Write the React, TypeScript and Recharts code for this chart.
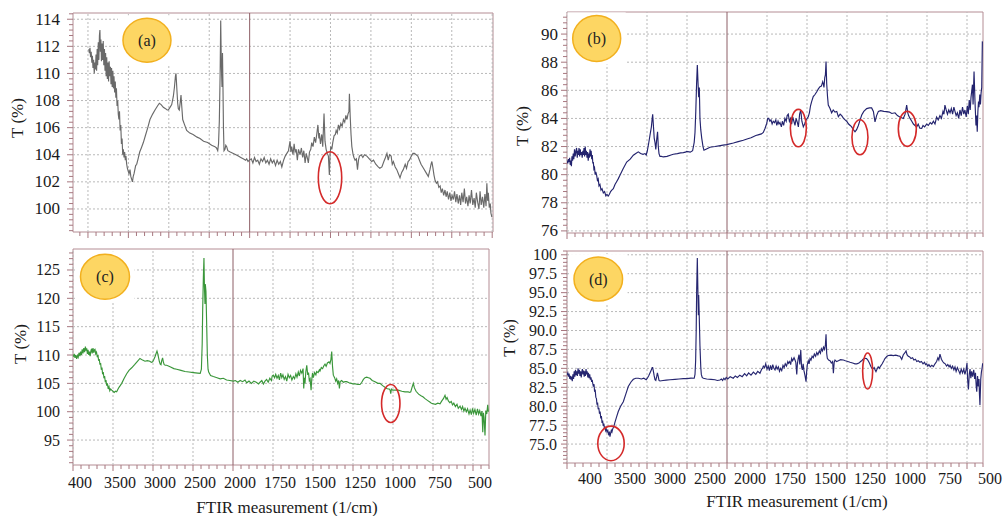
import React from 'react';
import { LineChart, Line, XAxis, YAxis, ReferenceLine, ReferenceDot, ReferenceArea } from 'recharts';

const FONT = 'Liberation Serif, Times New Roman, serif';
const GRID = '#b9b9b9';
const SOLID = '#8d5f66';
const FRAME = '#b48d94';
const TICK = '#a7777f';

// x tick labels (printed under the bottom panels)
const xTickLabels = ['400', '3500', '3000', '2500', '2000', '1750', '1500', '1250', '1000', '750', '500'];

// y major ticks and their labels per panel
const yMajorA = [100, 102, 104, 106, 108, 110, 112, 114];
const yLabelsA = ['100', '102', '104', '106', '108', '110', '112', '114'];
const yMajorB = [76, 78, 80, 82, 84, 86, 88, 90];
const yLabelsB = ['76', '78', '80', '82', '84', '86', '88', '90'];
const yMajorC = [95, 100, 105, 110, 115, 120, 125];
const yLabelsC = ['95', '100', '105', '110', '115', '120', '125'];
const yMajorD = [75, 77.5, 80, 82.5, 85, 87.5, 90, 92.5, 95, 97.5, 100];
const yLabelsD = ['75.0', '77.5', '80.0', '82.5', '85.0', '87.5', '90.0', '92.5', '95.0', '97.5', '100'];

// spectra: [wavenumber (1/cm), T (%)]
const spectrumA: [number, number][] = [
  [3990,111.8],[3982,111.5],[3975,111.9],[3968,111.2],[3960,111.6],[3952,110.8],[3945,111.3],[3938,110.4],[3930,111.0],[3922,110.0],
  [3915,110.8],[3908,110.3],[3900,111.4],[3893,110.2],[3886,111.8],[3880,110.6],[3872,112.3],[3865,111.0],[3858,112.8],[3852,113.2],
  [3846,111.6],[3840,112.5],[3833,110.9],[3826,112.2],[3818,111.0],[3811,112.4],[3804,110.6],[3796,111.8],[3789,110.2],[3782,111.5],
  [3775,109.8],[3768,111.2],[3760,109.6],[3752,110.8],[3745,109.4],[3738,110.9],[3730,109.8],[3722,110.5],[3715,109.2],[3708,110.4],
  [3700,109.0],[3692,110.2],[3685,108.9],[3678,109.8],[3670,108.6],[3662,109.4],[3655,108.2],[3648,108.9],[3640,107.6],[3632,108.0],
  [3625,107.0],[3617,106.6],[3610,107.2],[3602,105.8],[3594,106.2],[3586,104.8],[3578,105.2],[3570,104.0],[3562,104.4],[3554,103.8],
  [3546,104.2],[3538,103.6],[3530,103.9],[3521,103.3],[3512,103.0],[3502,102.8],[3492,102.6],[3480,102.9],[3470,102.4],[3460,102.2],
  [3450,102.0],[3440,102.4],[3430,102.6],[3420,102.9],[3410,103.2],[3397,103.3],[3380,103.7],[3360,104.2],[3340,104.5],[3315,104.9],
  [3290,105.4],[3260,106.0],[3233,106.6],[3200,107.0],[3171,107.3],[3140,107.6],[3117,107.8],[3095,107.7],[3068,107.5],[3040,107.4],
  [3020,107.3],[3006,107.3],[2985,107.5],[2964,107.7],[2944,108.3],[2930,109.0],[2918,109.8],[2911,110.0],[2900,108.8],[2890,107.8],
  [2882,107.4],[2870,107.3],[2858,107.9],[2849,108.4],[2840,107.6],[2828,106.6],[2810,106.3],[2779,105.8],[2740,105.6],[2700,105.5],
  [2650,105.3],[2614,105.2],[2570,105.0],[2520,104.9],[2470,104.7],[2430,104.6],[2410,104.5],[2395,104.3],[2385,104.8],[2375,106.5],
  [2365,110.0],[2358,113.9],[2350,110.5],[2342,109.0],[2336,111.5],[2330,109.0],[2324,106.0],[2317,104.3],[2305,104.4],[2295,104.7],
  [2284,104.6],[2270,104.3],[2240,104.2],[2202,104.1],[2170,104.0],[2140,103.9],[2110,103.8],[2080,103.7],[2050,103.6],[2036,103.7],
  [2020,103.5],[2005,103.6],[1990,103.7],[1980,103.4],[1970,103.8],[1960,103.5],[1950,103.6],[1940,103.3],[1930,103.7],[1920,103.5],
  [1910,103.8],[1900,103.4],[1890,103.6],[1880,103.3],[1870,103.7],[1860,103.4],[1850,103.6],[1840,103.2],[1830,103.6],[1820,103.3],
  [1810,103.5],[1801,103.1],[1790,103.6],[1780,103.9],[1770,104.1],[1760,104.3],[1750,105.0],[1745,104.2],[1740,104.6],[1732,104.0],
  [1725,104.8],[1719,104.2],[1712,104.4],[1705,103.6],[1698,104.4],[1688,104.0],[1680,104.5],[1672,103.8],[1665,104.3],[1657,103.4],
  [1650,104.1],[1642,103.7],[1637,103.4],[1630,104.2],[1622,104.4],[1616,104.9],[1608,104.6],[1600,105.3],[1592,104.9],[1585,105.5],
  [1578,106.2],[1572,105.2],[1569,105.6],[1562,104.8],[1554,105.5],[1548,104.6],[1540,107.05],[1534,105.0],[1527,104.4],[1520,104.1],
  [1513,103.9],[1507,102.5],[1503,104.0],[1498,104.6],[1492,104.4],[1486,104.9],[1478,105.4],[1470,105.5],[1465,105.8],[1458,105.6],
  [1451,106.2],[1444,105.9],[1436,106.3],[1428,106.1],[1420,106.6],[1412,106.4],[1405,106.9],[1398,106.6],[1392,107.0],[1386,107.2],
  [1383,108.5],[1378,106.8],[1373,105.5],[1368,104.6],[1360,104.0],[1355,103.8],[1348,103.6],[1340,103.7],[1333,102.9],[1327,103.6],
  [1321,103.9],[1310,104.0],[1300,103.8],[1290,104.0],[1275,103.9],[1260,103.7],[1245,103.5],[1234,103.6],[1220,103.3],[1205,103.1],
  [1195,103.0],[1182,103.1],[1170,103.5],[1160,103.8],[1151,104.1],[1143,103.6],[1135,104.0],[1125,103.9],[1118,103.3],[1111,103.5],
  [1100,103.1],[1090,102.9],[1080,102.6],[1070,102.3],[1060,102.7],[1050,102.9],[1038,103.3],[1030,103.0],[1020,103.5],[1012,103.6],
  [1000,103.9],[990,104.1],[981,104.1],[970,104.0],[960,103.9],[950,103.6],[940,103.3],[925,103.0],[910,102.7],[900,102.5],
  [895,102.4],[885,102.9],[878,103.3],[873,103.5],[866,103.0],[860,102.5],[853,102.1],[845,101.9],[838,102.0],[830,101.6],
  [822,101.7],[815,101.2],[808,101.5],[800,101.0],[792,101.4],[785,100.9],[778,101.3],[770,100.7],[762,101.2],[755,100.6],
  [748,101.0],[740,100.7],[733,101.3],[725,100.5],[718,101.1],[710,100.4],[702,101.0],[695,100.3],[688,101.2],[680,100.5],
  [672,101.5],[665,100.4],[658,100.9],[650,100.2],[643,101.0],[636,100.4],[628,101.4],[620,100.3],[612,100.8],[605,100.1],
  [598,101.2],[590,100.5],[582,100.0],[575,101.3],[568,100.3],[560,100.9],[552,100.1],[545,101.1],[538,100.2],[533,101.9],
  [528,100.6],[524,101.2],[518,100.1],[512,100.4],[508,99.7],[502,99.4],
];

const spectrumB: [number, number][] = [
  [4000,81.0],[3990,80.8],[3982,81.1],[3975,80.9],[3967,81.2],[3960,80.7],[3952,81.0],[3945,80.6],[3938,81.3],[3930,81.0],
  [3922,81.5],[3915,81.1],[3906,81.8],[3898,81.3],[3890,81.6],[3880,81.9],[3872,81.2],[3865,81.7],[3858,81.4],[3850,81.9],
  [3842,81.3],[3834,81.8],[3826,81.4],[3818,81.6],[3810,81.2],[3802,81.7],[3795,81.4],[3788,81.9],[3780,81.3],[3772,82.0],
  [3765,81.4],[3758,81.7],[3750,81.2],[3742,81.6],[3735,81.0],[3727,81.5],[3720,81.2],[3712,81.8],[3705,81.3],[3698,81.7],
  [3691,81.1],[3684,81.4],[3677,80.8],[3671,80.9],[3664,80.4],[3656,80.5],[3648,80.0],[3640,80.2],[3629,79.95],[3620,79.6],
  [3610,79.7],[3600,79.2],[3588,79.3],[3575,78.9],[3562,79.0],[3546,78.7],[3530,78.8],[3515,78.5],[3500,78.6],[3484,78.48],
  [3470,78.6],[3455,78.8],[3440,78.9],[3421,79.0],[3400,79.3],[3380,79.5],[3360,79.7],[3338,79.95],[3300,80.4],[3254,80.9],
  [3210,81.1],[3171,81.38],[3140,81.5],[3109,81.62],[3080,81.5],[3050,81.45],[3025,81.5],[3010,81.4],[2996,81.7],[2980,82.2],
  [2963,82.8],[2945,83.4],[2935,84.0],[2929,84.3],[2920,83.5],[2910,82.6],[2900,82.3],[2890,81.8],[2879,82.5],[2868,83.05],
  [2859,82.0],[2850,81.5],[2838,81.3],[2820,81.3],[2796,81.26],[2750,81.3],[2700,81.4],[2671,81.45],[2620,81.5],[2580,81.55],
  [2546,81.57],[2520,81.6],[2504,81.65],[2460,81.6],[2430,81.7],[2410,82.3],[2400,83.0],[2390,84.5],[2380,86.5],[2371,87.8],
  [2362,86.5],[2354,85.5],[2346,86.2],[2338,84.0],[2328,83.2],[2316,82.6],[2300,82.0],[2288,81.74],[2250,81.85],[2213,81.95],
  [2150,82.0],[2100,82.05],[2050,82.1],[2004,82.14],[1960,82.25],[1930,82.35],[1898,82.45],[1870,82.55],[1850,82.62],[1836,82.7],
  [1820,82.78],[1800,82.85],[1785,82.9],[1773,83.0],[1762,83.3],[1752,83.64],[1745,84.0],[1739,84.0],[1732,83.8],[1725,83.9],
  [1718,83.6],[1711,83.8],[1703,83.7],[1695,83.9],[1689,83.5],[1681,83.8],[1675,83.6],[1669,83.7],[1660,83.4],[1654,83.8],
  [1646,83.5],[1638,84.0],[1630,83.8],[1624,84.2],[1617,84.3],[1610,83.8],[1603,84.0],[1596,83.6],[1589,84.1],[1582,83.8],
  [1575,83.5],[1568,84.0],[1560,83.7],[1554,83.4],[1546,84.3],[1539,84.6],[1532,83.8],[1523,83.4],[1515,83.6],[1506,83.9],
  [1499,84.0],[1492,84.12],[1485,84.4],[1478,84.9],[1471,85.2],[1461,85.55],[1450,85.7],[1439,85.9],[1429,86.1],[1419,86.26],
  [1410,86.3],[1402,86.6],[1397,86.4],[1394,86.2],[1389,86.9],[1385,87.1],[1381,88.05],[1377,86.5],[1372,85.6],[1367,84.95],
  [1356,84.7],[1346,84.4],[1336,84.6],[1325,84.45],[1314,84.5],[1304,84.12],[1293,84.3],[1283,84.2],[1272,84.0],[1262,83.9],
  [1252,83.8],[1240,83.6],[1230,83.5],[1221,83.4],[1210,83.2],[1200,83.05],[1190,83.2],[1179,83.5],[1168,83.9],[1158,84.24],
  [1145,84.5],[1127,84.7],[1110,84.75],[1096,84.75],[1085,84.5],[1075,83.76],[1065,84.2],[1054,84.5],[1040,84.55],[1020,84.5],
  [1002,84.48],[985,84.45],[970,84.35],[950,84.4],[935,84.2],[920,84.1],[898,84.0],[887,84.3],[877,84.95],[870,84.4],
  [865,84.2],[856,84.0],[845,83.8],[835,83.6],[825,83.5],[814,83.4],[805,83.6],[795,83.3],[783,83.29],[775,83.5],
  [765,83.4],[752,83.6],[742,83.5],[730,83.7],[720,83.6],[710,83.8],[700,83.6],[690,84.1],[680,83.9],[669,84.2],
  [660,84.0],[650,84.5],[644,84.3],[638,84.95],[630,84.6],[622,84.3],[614,84.6],[606,84.4],[598,84.7],[590,84.3],
  [582,84.8],[575,84.5],[568,84.2],[560,84.4],[552,84.0],[544,84.6],[536,84.2],[528,84.8],[520,84.3],[513,84.6],
  [505,84.1],[498,84.9],[492,84.3],[486,85.3],[480,84.6],[475,85.5],[471,85.9],[466,86.4],[462,85.0],[456,87.33],
  [450,85.2],[444,83.5],[440,84.2],[436,83.05],[432,84.5],[428,85.2],[425,84.8],[420,85.7],[416,85.0],[412,85.8],
  [408,86.2],[404,89.48],
];

const spectrumC: [number, number][] = [
  [3996,109.7],[3985,110.2],[3975,109.5],[3965,110.0],[3954,109.3],[3945,109.9],[3935,109.6],[3925,110.4],[3913,109.8],[3905,110.6],
  [3895,110.0],[3885,111.0],[3875,110.3],[3865,111.2],[3855,110.5],[3845,111.5],[3838,110.8],[3829,111.2],[3820,110.2],[3812,110.9],
  [3803,110.0],[3795,110.6],[3786,109.8],[3777,110.7],[3768,111.1],[3760,110.3],[3750,111.2],[3741,110.4],[3732,110.9],[3725,111.0],
  [3716,110.2],[3706,110.5],[3696,109.6],[3688,110.0],[3680,109.0],[3672,109.3],[3663,108.3],[3655,108.6],[3646,107.4],[3638,107.8],
  [3630,106.6],[3622,107.0],[3613,105.9],[3605,106.3],[3596,105.2],[3588,105.6],[3579,104.6],[3570,105.0],[3560,104.0],[3550,104.4],
  [3540,103.7],[3530,104.0],[3516,103.8],[3500,103.6],[3485,103.4],[3470,103.6],[3454,103.5],[3440,103.9],[3425,104.3],[3410,104.6],
  [3391,105.0],[3360,105.9],[3329,106.7],[3300,107.3],[3266,107.75],[3230,108.3],[3200,108.8],[3163,109.4],[3130,109.1],[3100,108.9],
  [3071,109.0],[3040,108.9],[3020,108.7],[3004,108.8],[2990,109.2],[2975,109.7],[2960,110.3],[2950,110.7],[2940,110.2],[2930,109.5],
  [2921,108.9],[2910,108.4],[2900,108.3],[2891,109.0],[2880,109.5],[2871,108.8],[2860,108.3],[2846,108.2],[2829,108.2],[2780,107.9],
  [2740,107.6],[2704,107.5],[2650,107.3],[2600,107.1],[2550,107.0],[2496,106.9],[2440,106.8],[2410,106.75],[2395,107.5],[2385,112.0],
  [2379,118.0],[2370,124.0],[2363,127.1],[2357,122.0],[2350,119.0],[2346,122.5],[2338,121.2],[2330,116.0],[2321,110.0],[2312,107.5],
  [2304,107.0],[2280,106.4],[2246,106.2],[2200,106.0],[2160,105.8],[2121,105.9],[2080,105.6],[2040,105.5],[1998,105.4],[1985,105.5],
  [1970,105.2],[1955,105.5],[1940,105.3],[1925,105.6],[1914,105.1],[1900,105.4],[1885,105.0],[1870,105.4],[1855,105.2],[1840,104.9],
  [1831,105.2],[1820,105.5],[1810,104.9],[1800,105.4],[1790,105.7],[1780,105.2],[1770,105.9],[1760,105.5],[1755,106.3],[1748,106.45],
  [1740,106.0],[1733,106.6],[1725,105.9],[1717,106.4],[1710,105.6],[1702,106.8],[1695,106.0],[1688,106.5],[1680,105.7],[1672,106.2],
  [1664,105.4],[1656,106.6],[1648,106.0],[1640,106.4],[1632,105.6],[1623,106.2],[1615,105.8],[1607,106.7],[1600,106.1],[1592,107.0],
  [1585,106.3],[1578,107.3],[1570,106.8],[1562,107.6],[1558,104.1],[1554,106.0],[1550,105.0],[1545,107.0],[1539,108.2],[1533,106.5],
  [1528,106.9],[1523,105.5],[1518,105.8],[1512,103.8],[1508,105.6],[1503,106.8],[1498,106.0],[1490,106.9],[1482,106.5],[1477,107.1],
  [1468,106.9],[1460,107.4],[1456,107.2],[1448,107.8],[1440,107.6],[1432,108.1],[1425,108.4],[1418,108.0],[1410,108.6],[1400,108.8],
  [1394,108.5],[1388,109.2],[1383,110.6],[1378,108.0],[1373,106.45],[1365,106.0],[1358,105.4],[1352,105.8],[1346,105.0],[1340,105.5],
  [1335,104.1],[1330,105.3],[1321,105.5],[1310,105.2],[1300,105.3],[1289,105.3],[1275,105.1],[1260,105.0],[1248,104.9],[1235,104.9],
  [1220,104.8],[1206,104.8],[1195,105.2],[1185,105.7],[1175,106.0],[1164,106.1],[1154,106.0],[1144,105.9],[1130,105.5],[1112,105.3],
  [1095,105.0],[1081,105.0],[1065,104.6],[1050,104.3],[1039,104.1],[1030,104.0],[1023,104.0],[1018,103.8],[1014,103.2],[1010,104.0],
  [1002,103.8],[985,103.8],[967,103.8],[945,103.6],[925,103.5],[905,103.5],[895,103.4],[889,103.5],[881,104.3],[873,105.0],
  [866,104.2],[856,103.6],[840,103.1],[825,102.8],[811,102.6],[800,102.3],[785,102.0],[770,101.7],[760,101.5],[748,101.4],
  [735,101.3],[720,101.5],[706,101.4],[695,101.9],[685,102.3],[675,102.9],[668,102.2],[662,102.5],[654,101.9],[645,101.6],
  [636,101.8],[628,101.2],[620,101.5],[610,100.9],[600,101.3],[592,100.6],[581,101.0],[572,100.4],[565,100.9],[557,100.1],
  [550,100.6],[541,100.0],[534,100.5],[525,99.6],[518,100.3],[510,99.5],[503,100.6],[496,99.7],[488,100.4],[480,99.4],
  [472,100.5],[465,99.6],[458,100.2],[450,99.2],[444,100.1],[439,96.4],[435,99.8],[431,99.0],[425,95.8],[420,100.2],
  [414,99.6],[408,101.2],[404,100.0],
];

const spectrumD: [number, number][] = [
  [4000,84.1],[3990,84.4],[3982,83.9],[3974,84.3],[3965,83.6],[3958,84.0],[3950,83.5],[3942,83.9],[3934,83.3],[3926,84.2],
  [3918,83.6],[3910,84.6],[3902,83.9],[3894,84.8],[3886,84.1],[3878,84.6],[3870,84.0],[3862,85.0],[3855,84.3],[3846,84.8],
  [3838,84.0],[3830,84.6],[3822,83.8],[3815,84.5],[3808,84.9],[3800,84.2],[3792,84.7],[3785,83.9],[3777,84.6],[3770,84.0],
  [3762,84.9],[3755,84.2],[3748,84.6],[3740,83.8],[3732,84.4],[3724,83.7],[3716,84.2],[3708,83.5],[3700,83.8],[3692,83.2],
  [3685,83.5],[3678,83.0],[3670,82.6],[3662,82.9],[3655,81.9],[3648,82.2],[3640,81.2],[3632,81.0],[3625,80.2],[3618,80.5],
  [3610,79.6],[3602,79.8],[3594,79.0],[3586,79.3],[3578,78.4],[3570,78.7],[3562,77.8],[3555,78.1],[3547,77.4],[3540,77.7],
  [3532,77.0],[3525,77.3],[3517,76.8],[3510,77.0],[3500,76.6],[3490,76.8],[3480,76.3],[3470,76.5],[3463,75.97],[3455,76.4],
  [3446,76.8],[3438,76.6],[3429,77.0],[3415,77.3],[3400,77.9],[3380,78.6],[3359,79.3],[3330,80.0],[3296,80.6],[3265,81.6],
  [3234,82.6],[3200,83.2],[3171,83.56],[3140,83.7],[3109,83.7],[3070,83.6],[3040,83.7],[3025,83.6],[3010,83.5],[2996,83.7],
  [2980,84.0],[2963,84.4],[2945,84.8],[2935,85.1],[2929,85.1],[2920,84.6],[2910,84.0],[2900,83.5],[2890,83.4],[2879,83.9],
  [2870,84.4],[2859,83.9],[2850,83.4],[2838,83.33],[2800,83.4],[2760,83.45],[2713,83.5],[2650,83.55],[2600,83.6],[2546,83.65],
  [2500,83.65],[2450,83.7],[2410,83.69],[2400,84.2],[2392,86.0],[2385,90.0],[2379,95.5],[2371,99.56],[2365,96.0],[2358,92.0],
  [2354,94.7],[2346,91.5],[2338,88.0],[2328,85.2],[2321,84.2],[2310,83.8],[2296,83.69],[2254,83.6],[2200,83.55],[2150,83.5],
  [2120,83.4],[2088,83.47],[2070,83.6],[2055,83.4],[2040,83.7],[2025,83.5],[2010,83.8],[1995,83.6],[1980,83.9],[1961,83.7],
  [1948,84.0],[1935,83.8],[1920,84.1],[1905,83.9],[1890,84.3],[1877,84.0],[1865,84.4],[1850,84.1],[1835,84.5],[1820,84.2],
  [1808,84.6],[1794,84.35],[1783,84.9],[1778,85.0],[1773,85.3],[1765,85.1],[1758,85.6],[1750,84.9],[1742,85.3],[1735,84.7],
  [1728,85.4],[1721,84.8],[1714,85.5],[1707,85.0],[1700,84.8],[1693,85.3],[1686,84.9],[1679,85.2],[1672,84.6],[1665,85.0],
  [1658,84.7],[1650,85.4],[1643,85.1],[1636,85.6],[1628,85.3],[1620,85.9],[1615,85.67],[1608,85.9],[1602,85.5],[1596,86.3],
  [1590,86.0],[1581,86.4],[1575,86.1],[1570,85.8],[1564,84.2],[1560,85.6],[1556,86.2],[1550,86.8],[1545,85.5],[1539,87.43],
  [1534,85.2],[1529,84.8],[1524,85.6],[1519,84.7],[1513,84.1],[1506,83.24],[1502,84.6],[1498,85.5],[1492,86.0],[1487,85.6],
  [1481,86.3],[1475,86.1],[1468,86.6],[1461,86.4],[1454,86.9],[1446,86.6],[1439,87.1],[1432,86.8],[1423,87.3],[1416,87.0],
  [1410,87.6],[1403,87.3],[1397,87.8],[1390,87.5],[1385,88.1],[1381,89.5],[1377,87.0],[1373,86.33],[1365,86.1],[1356,86.0],
  [1348,85.7],[1340,85.9],[1335,84.35],[1330,85.8],[1325,86.1],[1315,85.9],[1304,86.0],[1290,86.15],[1273,86.1],[1260,86.0],
  [1245,85.9],[1231,85.8],[1215,85.7],[1200,85.6],[1189,85.6],[1175,85.7],[1165,85.9],[1158,86.0],[1150,86.2],[1138,86.33],
  [1128,86.3],[1120,86.1],[1110,85.7],[1100,85.2],[1090,84.9],[1080,85.1],[1075,84.8],[1069,84.57],[1062,84.9],[1055,85.2],
  [1048,85.0],[1040,85.3],[1030,85.6],[1020,86.0],[1013,86.3],[1000,86.6],[992,86.7],[975,86.75],[961,86.68],[945,86.75],
  [930,86.65],[919,86.6],[908,86.2],[898,86.8],[890,87.0],[881,87.3],[875,86.8],[867,86.6],[858,86.5],[850,86.3],
  [840,86.4],[832,86.1],[822,86.2],[814,85.9],[805,86.0],[794,85.8],[785,85.9],[775,85.6],[766,85.8],[759,85.5],
  [752,85.6],[745,85.3],[738,85.5],[730,85.2],[720,85.4],[710,85.23],[700,85.6],[690,85.9],[682,86.4],[676,86.1],
  [669,86.87],[660,86.2],[652,85.9],[644,85.7],[636,85.6],[628,85.3],[620,85.5],[612,85.2],[606,85.4],[598,85.0],
  [590,85.3],[582,84.8],[575,85.2],[568,84.6],[560,85.1],[552,84.7],[544,84.3],[536,84.9],[528,84.4],[520,84.9],
  [513,84.2],[506,84.8],[500,85.7],[496,83.5],[491,82.2],[486,84.2],[481,84.9],[476,83.7],[471,84.6],[465,83.9],
  [458,84.8],[452,83.6],[447,84.4],[442,82.5],[439,81.92],[434,84.0],[429,82.6],[425,83.6],[422,81.5],[419,80.16],
  [414,83.6],[410,84.5],[406,85.0],[402,85.67],
];

// red ellipse highlights: [wavenumber, T, rx(px), ry(px)]
const ellipsesA: [number, number, number, number][] = [[1503, 102.3, 11.7, 26]];
const ellipsesB: [number, number, number, number][] = [[1554, 83.31, 8, 18.7], [1169, 82.66, 8, 17.5], [873, 83.26, 9, 17.5]];
const ellipsesC: [number, number, number, number][] = [[1014, 101.45, 9.2, 19]];
const ellipsesD: [number, number, number, number][] = [[3450, 75.09, 13.2, 17.3], [1121, 84.66, 5, 18]];

// panel tags: [wavenumber, T]
const tagA: [number, number] = [3270, 112.45];
const tagB: [number, number] = [3629, 89.69];
const tagC: [number, number] = [3600, 123.8];
const tagD: [number, number] = [3609, 96.79];

// piecewise FTIR axis: 4000-2000 at half scale, 2000-400 at full scale
function toP(w: number): number {
  return w >= 2000 ? (4000 - w) / 500 : 4 + (2000 - w) / 250;
}

function range(start: number, end: number, step: number): number[] {
  const out: number[] = [];
  const s = Math.ceil(start / step - 1e-9);
  for (let k = s; k * step <= end + 1e-9; k++) out.push(Math.round(k * step * 1000) / 1000);
  return out;
}

type PanelCfg = {
  left: number; top: number; width: number; height: number;
  margin: { top: number; right: number; bottom: number; left: number };
  yAxisWidth: number; xAxisHeight: number;
  data: [number, number][]; color: string;
  xDomain: [number, number]; yDomain: [number, number];
  yMajor: number[]; yLabels: string[]; yMinorStep: number; yLabelGap: number; yFont: number;
  showXLabels: boolean; labelDx: number; labelDy: number;
  tag: string; tagPos: [number, number]; tagR: [number, number];
  ellipses: [number, number, number, number][];
};

function Panel(c: PanelCfg) {
  const chartData = c.data.map(([w, t]) => ({ p: toP(w), t }));
  const xTicks = range(c.xDomain[0], c.xDomain[1], 0.2);
  const yTicks = range(c.yDomain[0], c.yDomain[1], c.yMinorStep);
  const xMajors = xTicks.filter((v) => Math.abs(v - Math.round(v)) < 1e-6);
  const yMajorIndex = (v: number) => c.yMajor.findIndex((m) => Math.abs(m - v) < 1e-6);

  const renderXTick = (tp: any) => {
    const { x, y, payload } = tp;
    const v = payload.value as number;
    const major = Math.abs(v - Math.round(v)) < 1e-6;
    const idx = Math.round(v);
    return (
      <g>
        <line x1={x} y1={y} x2={x} y2={y + (major ? 6 : 4)} stroke={TICK} strokeWidth={1} />
        {c.showXLabels && major && idx >= 0 && idx < xTickLabels.length ? (
          <text x={x + c.labelDx} y={y + c.labelDy} textAnchor="middle" dominantBaseline="central"
            fontFamily={FONT} fontSize={16} fill="#1a1a1a">{xTickLabels[idx]}</text>
        ) : null}
      </g>
    );
  };

  const renderYTick = (tp: any) => {
    const { x, y, payload } = tp;
    const v = payload.value as number;
    const mi = yMajorIndex(v);
    const major = mi >= 0;
    return (
      <g>
        <line x1={x - (major ? 6 : 4)} y1={y} x2={x} y2={y} stroke={TICK} strokeWidth={1} />
        {major ? (
          <text x={x - c.yLabelGap} y={y} textAnchor="end" dominantBaseline="central"
            fontFamily={FONT} fontSize={c.yFont} fill="#1a1a1a">{c.yLabels[mi]}</text>
        ) : null}
      </g>
    );
  };

  const [rxT, ryT] = c.tagR;

  return (
    <div style={{ position: 'absolute', left: c.left, top: c.top }}>
      <LineChart width={c.width} height={c.height} data={chartData} margin={c.margin}>
        <XAxis dataKey="p" type="number" domain={c.xDomain} allowDataOverflow ticks={xTicks} interval={0}
          height={c.xAxisHeight} axisLine={false} tickLine={false} tickSize={0} tickMargin={0} tick={renderXTick} />
        <YAxis type="number" domain={c.yDomain} allowDataOverflow ticks={yTicks} interval={0}
          width={c.yAxisWidth} axisLine={false} tickLine={false} tickSize={0} tickMargin={0} tick={renderYTick} />
        {c.yMajor.map((v) => (
          <ReferenceLine key={'h' + v} y={v} stroke={GRID} strokeDasharray="2 2" strokeWidth={1} />
        ))}
        {xMajors.map((v) => (
          <ReferenceLine key={'v' + v} x={v} stroke={v === 4 ? SOLID : GRID}
            strokeDasharray={v === 4 ? undefined : '2 2'} strokeWidth={1} />
        ))}
        <ReferenceArea x1={c.xDomain[0]} x2={c.xDomain[1]} y1={c.yDomain[0]} y2={c.yDomain[1]}
          fill="none" fillOpacity={0} stroke={FRAME} strokeWidth={1} />
        <Line dataKey="t" type="linear" stroke={c.color} strokeWidth={1.15} dot={false} activeDot={false}
          isAnimationActive={false} />
        {c.ellipses.map(([w, t, rx, ry], i) => (
          <ReferenceDot key={'e' + i} x={toP(w)} y={t} r={1}
            shape={(sp: any) => (
              <ellipse cx={sp.cx} cy={sp.cy} rx={rx} ry={ry} fill="none" stroke="#d42a2a" strokeWidth={1.6} />
            )} />
        ))}
        <ReferenceDot x={toP(c.tagPos[0])} y={c.tagPos[1]} r={1}
          shape={(sp: any) => (
            <g>
              <rect x={sp.cx - rxT - 5} y={sp.cy - ryT - 3} width={2 * rxT + 10} height={2 * ryT + 6} fill="#ffffff" />
              <ellipse cx={sp.cx} cy={sp.cy} rx={rxT} ry={ryT} fill="#fdd663" stroke="#f2b01e" strokeWidth={1.5} />
              <text x={sp.cx} y={sp.cy} textAnchor="middle" dominantBaseline="central" fontFamily={FONT}
                fontSize={16} fill="#222">{c.tag}</text>
            </g>
          )} />
      </LineChart>
    </div>
  );
}

function RotLabel({ x, y, text, size }: { x: number; y: number; text: string; size: number }) {
  return (
    <div style={{
      position: 'absolute', left: x, top: y, transform: 'translate(-50%, -50%) rotate(-90deg)',
      whiteSpace: 'nowrap', fontFamily: FONT, fontSize: size, color: '#1a1a1a', lineHeight: 1,
    }}>{text}</div>
  );
}

function Title({ x, y, text }: { x: number; y: number; text: string }) {
  return (
    <div style={{
      position: 'absolute', left: x, top: y, transform: 'translate(-50%, -50%)',
      whiteSpace: 'nowrap', fontFamily: FONT, fontSize: 17, color: '#1a1a1a', lineHeight: 1,
    }}>{text}</div>
  );
}

export default function App() {
  return (
    <div style={{ position: 'absolute', left: 0, top: 0, width: 1003, height: 516, background: '#ffffff', overflow: 'hidden' }}>
      <Panel left={0} top={0} width={500} height={240} margin={{ top: 13, right: 7, bottom: 0, left: 0 }}
        yAxisWidth={73} xAxisHeight={8} data={spectrumA} color="#6a6a6a"
        xDomain={[-0.37, 10.02]} yDomain={[98.3, 114.46]} yMajor={yMajorA} yLabels={yLabelsA} yMinorStep={0.4}
        yLabelGap={13} yFont={17}
        showXLabels={false} labelDx={0} labelDy={0} tag="(a)" tagPos={tagA} tagR={[24, 22]} ellipses={ellipsesA} />
      <Panel left={500} top={0} width={503} height={240} margin={{ top: 12, right: 20, bottom: 0, left: 0 }}
        yAxisWidth={67} xAxisHeight={7} data={spectrumB} color="#23236e"
        xDomain={[0, 10.4]} yDomain={[75.85, 91.57]} yMajor={yMajorB} yLabels={yLabelsB} yMinorStep={0.4}
        yLabelGap={9} yFont={17}
        showXLabels={false} labelDx={0} labelDy={0} tag="(b)" tagPos={tagB} tagR={[24, 23]} ellipses={ellipsesB} />
      <Panel left={0} top={235} width={500} height={281} margin={{ top: 14, right: 11, bottom: 0, left: 0 }}
        yAxisWidth={73} xAxisHeight={51} data={spectrumC} color="#3a963a"
        xDomain={[0, 10.4]} yDomain={[90.6, 128.7]} yMajor={yMajorC} yLabels={yLabelsC} yMinorStep={1}
        yLabelGap={13} yFont={16}
        showXLabels={true} labelDx={7} labelDy={17} tag="(c)" tagPos={tagC} tagR={[24.5, 22.5]} ellipses={ellipsesC} />
      <Panel left={500} top={240} width={503} height={276} margin={{ top: 11, right: 20, bottom: 0, left: 0 }}
        yAxisWidth={67} xAxisHeight={53} data={spectrumD} color="#262670"
        xDomain={[0, 10.4]} yDomain={[72.5, 100.5]} yMajor={yMajorD} yLabels={yLabelsD} yMinorStep={0.5}
        yLabelGap={10} yFont={16}
        showXLabels={true} labelDx={23} labelDy={15} tag="(d)" tagPos={tagD} tagR={[24.3, 22]} ellipses={ellipsesD} />
      <RotLabel x={17} y={118} text="T (%)" size={17} />
      <RotLabel x={522} y={126} text="T (%)" size={17} />
      <RotLabel x={20} y={344} text="T (%)" size={17} />
      <RotLabel x={510} y={338} text="T (%)" size={16} />
      <Title x={287} y={507} text="FTIR measurement (1/cm)" />
      <Title x={797} y={501} text="FTIR measurement (1/cm)" />
    </div>
  );
}
